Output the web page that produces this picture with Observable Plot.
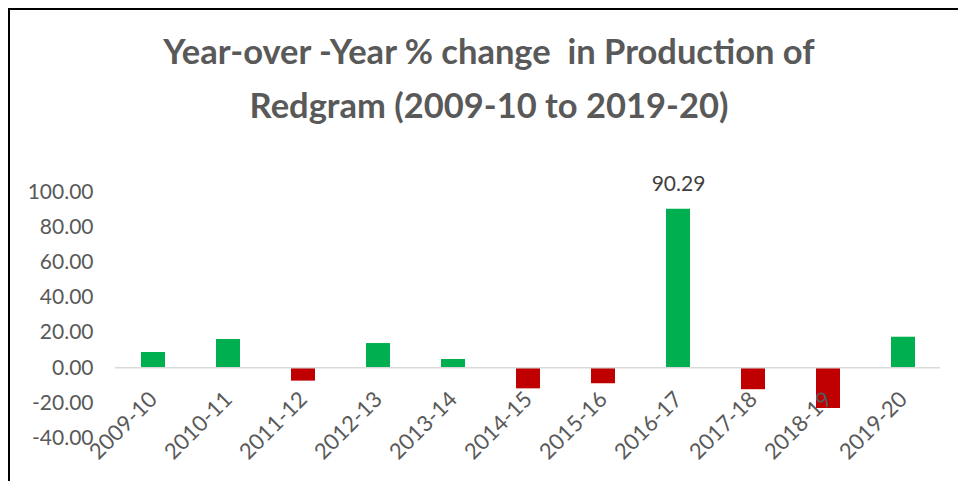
<!DOCTYPE html>
<html>
<head>
<meta charset="utf-8">
<script src="https://cdn.jsdelivr.net/npm/d3@7"></script>
<script src="https://cdn.jsdelivr.net/npm/@observablehq/plot@0.6"></script>
<style>
  html, body { margin: 0; padding: 0; background: #fff; }
  #wrap { position: relative; width: 958px; height: 481px; overflow: hidden; }
  #frame { position: absolute; left: 8px; top: 8px; width: 970px; height: 490px;
           border-left: 2px solid #000; border-top: 2px solid #000; pointer-events: none; z-index: 2; }
  #title { position: relative; margin-left: 10px; width: 958px; height: 150px; box-sizing: border-box;
           padding-top: 24px; font-family: Lato, "Open Sans", sans-serif; font-weight: 700;
           font-size: 34.5px; line-height: 54px; color: #595959; text-align: center; white-space: pre; }
  #chart svg { display: block; }
</style>
</head>
<body>
<div id="wrap">
  <div id="frame"></div>
  <div id="title">Year-over -Year % change  in Production of
Redgram (2009-10 to 2019-20)</div>
  <div id="chart"></div>
</div>
<script>
const years = ["2009-10","2010-11","2011-12","2012-13","2013-14","2014-15","2015-16","2016-17","2017-18","2018-19","2019-20"];
const values = [8.7, 16.1, -7.6, 13.8, 4.7, -12.0, -9.1, 90.29, -12.5, -23.2, 17.4];
const labelledYears = ["2016-17"];
const yTicks = [-40, -20, 0, 20, 40, 60, 80, 100];
const posColor = "#00B050";
const negColor = "#C00000";

const data = years.map((year, i) => ({year, value: values[i], sign: values[i] >= 0 ? "pos" : "neg"}));
const labelled = data.filter(d => labelledYears.includes(d.year));

const chart = Plot.plot({
  width: 958,
  height: 331,
  marginLeft: 115,
  marginRight: 18,
  marginTop: 41.7,
  marginBottom: 43.5,
  style: { fontFamily: "Lato, 'Open Sans', sans-serif", fontSize: "21px", color: "#595959", background: "transparent" },
  x: { domain: years, paddingInner: 0.68, paddingOuter: 0.34, axis: null },
  y: { domain: [-40, 100], axis: null },
  color: { domain: ["pos", "neg"], range: [posColor, negColor] },
  marks: [
    Plot.axisY({ ticks: yTicks, tickSize: 0, tickPadding: 22, tickFormat: d => d.toFixed(2), fontSize: 21, label: null }),
    Plot.barY(data, { x: "year", y: "value", fill: "sign" }),
    Plot.ruleY([0], { stroke: "#d9d9d9", strokeWidth: 1.5 }),
    Plot.text(data, { x: "year", y: 0, text: "year", rotate: -45, textAnchor: "end", dx: 0, dy: 28, fontSize: 22, fill: "#595959" }),
    Plot.text(labelled, { x: "year", y: "value", text: d => d.value.toFixed(2), dy: -25, fontSize: 21, fill: "#404040" })
  ]
});
document.getElementById("chart").appendChild(chart);
</script>
</body>
</html>
